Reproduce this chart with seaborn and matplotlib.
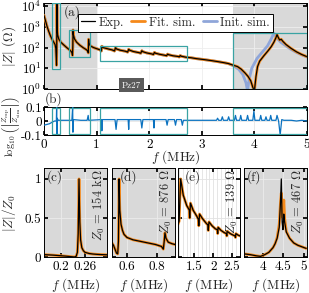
import matplotlib
matplotlib.use("Agg")
import matplotlib.pyplot as plt
import seaborn as sns
from matplotlib.patches import Rectangle

# ---- data ----
# panel (a): |Z| in Ohm vs f in MHz
exp_f = [0.00, 0.03, 0.06, 0.09, 0.12, 0.15, 0.18, 0.21, 0.225, 0.233, 0.238, 0.242, 0.245,
         0.248, 0.252, 0.26, 0.28, 0.32, 0.38, 0.44, 0.50, 0.53, 0.542, 0.548, 0.552, 0.558,
         0.58, 0.62, 0.68, 0.74, 0.80, 0.835, 0.842, 0.848, 0.855, 0.88, 0.94, 1.00, 1.06,
         1.09, 1.10, 1.12, 1.20, 1.30, 1.34, 1.36, 1.38, 1.45, 1.55, 1.59, 1.61, 1.63, 1.70,
         1.80, 1.84, 1.86, 1.88, 1.95, 2.05, 2.08, 2.10, 2.12, 2.20, 2.30, 2.33, 2.35, 2.37,
         2.45, 2.55, 2.57, 2.59, 2.61, 2.70, 2.80, 2.90, 3.00, 3.10, 3.20, 3.30, 3.40, 3.50,
         3.60, 3.68, 3.75, 3.82, 3.88, 3.93, 3.97, 4.00, 4.03, 4.06, 4.10, 4.18, 4.26, 4.32,
         4.37, 4.41, 4.43, 4.45, 4.48, 4.51, 4.54, 4.60, 4.70, 4.80, 4.90, 5.00]
exp_z = [3500, 1900, 1000, 600, 380, 260, 190, 140, 90, 30, 14, 60, 20000,
         2000, 700, 400, 260, 180, 130, 95, 72, 58, 42, 120, 700, 420,
         260, 180, 130, 100, 80, 68, 55, 250, 160, 120, 100, 88, 78,
         68, 115, 100, 88, 76, 68, 98, 85, 74, 66, 60, 82, 74, 64,
         57, 53, 70, 63, 55, 49, 46, 58, 53, 47, 42, 40, 48, 45,
         40, 37, 35, 41, 38, 34, 32, 29, 27, 25, 23, 21, 19, 17,
         14, 12, 9, 6, 4, 2.5, 1.2, 0.8, 4, 12, 22, 40, 70, 110,
         180, 300, 420, 320, 230, 250, 200, 140, 90, 62, 46, 36]
init_tail_f = [3.60, 3.70, 3.78, 3.84, 3.87, 3.90, 3.95, 4.05, 4.15, 4.25, 4.32, 4.37,
               4.42, 4.50, 4.60, 4.70, 4.80, 4.90, 5.00]
init_tail_z = [13, 9, 5, 2, 0.8, 3, 10, 30, 60, 120, 260, 500,
               300, 180, 120, 80, 58, 44, 35]

# panel (b): log10(|Zexp/Zsim|)
res_f = [0.00, 0.05, 0.10, 0.15, 0.20, 0.235, 0.24, 0.245, 0.25, 0.27, 0.40, 0.53, 0.545,
         0.55, 0.56, 0.70, 0.82, 0.84, 0.85, 1.00, 1.09, 1.10, 1.11, 1.35, 1.37, 1.39, 1.60,
         1.61, 1.62, 1.84, 1.86, 1.88, 2.08, 2.09, 2.10, 2.32, 2.34, 2.36, 2.48, 2.50, 2.52,
         2.61, 2.63, 2.65, 2.80, 3.00, 3.28, 3.30, 3.32, 3.37, 3.39, 3.41, 3.49, 3.51, 3.53,
         3.62, 3.64, 3.66, 3.72, 3.74, 3.76, 3.85, 3.87, 3.89, 3.97, 3.99, 4.01, 4.10, 4.12,
         4.14, 4.20, 4.22, 4.24, 4.29, 4.31, 4.33, 4.41, 4.43, 4.46, 4.49, 4.52, 4.56, 4.60,
         4.70, 4.80, 4.90, 5.00]
res_v = [-0.03, -0.025, -0.02, -0.01, 0.0, 0.0, 0.1, -0.1, 0.02, 0.005, 0.005, 0.005, 0.1,
         -0.08, 0.01, 0.005, 0.005, 0.04, 0.005, 0.008, 0.01, -0.07, 0.01, 0.01, -0.06, 0.01,
         0.01, -0.06, 0.01, 0.01, -0.05, 0.01, 0.01, -0.05, 0.01, 0.01, -0.03, 0.01, 0.01,
         -0.03, 0.01, 0.01, -0.03, 0.005, 0.005, 0.005, 0.005, 0.02, 0.005, 0.005, 0.03,
         0.005, 0.005, 0.03, 0.005, 0.005, 0.04, 0.005, 0.005, 0.04, 0.005, 0.005, 0.04,
         0.005, 0.005, 0.07, 0.005, 0.005, 0.04, 0.005, 0.005, 0.03, 0.005, 0.005, 0.04,
         0.005, 0.005, 0.04, 0.0, -0.1, 0.01, 0.005, 0.005, 0.005, 0.0, 0.005, 0.0]

# zoomed panels, |Z|/Z0
c_f = [0.158, 0.17, 0.18, 0.19, 0.20, 0.21, 0.22, 0.228, 0.234, 0.238, 0.241, 0.243, 0.245,
       0.247, 0.249, 0.252, 0.256, 0.26, 0.27, 0.28, 0.29, 0.30, 0.315]
c_exp = [0.03, 0.027, 0.024, 0.02, 0.016, 0.012, 0.007, 0.003, 0.0, 0.01, 0.06, 0.3, 1.0,
         0.45, 0.22, 0.12, 0.08, 0.06, 0.045, 0.038, 0.034, 0.031, 0.028]
d_f = [0.50, 0.51, 0.52, 0.53, 0.538, 0.543, 0.547, 0.552, 0.56, 0.57, 0.58, 0.60, 0.64,
       0.69, 0.74, 0.79, 0.83, 0.842, 0.848, 0.853, 0.86, 0.875, 0.90, 0.92]
d_exp = [0.18, 0.15, 0.10, 0.05, 0.04, 0.2, 1.0, 0.6, 0.42, 0.34, 0.29, 0.25, 0.22,
         0.20, 0.18, 0.16, 0.135, 0.10, 0.2, 0.31, 0.24, 0.19, 0.17, 0.16]
e_f = [1.07, 1.10, 1.12, 1.14, 1.21, 1.30, 1.37, 1.38, 1.40, 1.47, 1.57, 1.61, 1.62, 1.64,
       1.72, 1.82, 1.86, 1.87, 1.89, 1.97, 2.06, 2.11, 2.12, 2.13, 2.21, 2.30, 2.35, 2.36,
       2.37, 2.45, 2.53, 2.58, 2.59, 2.60, 2.66, 2.71]
e_exp = [0.42, 0.46, 0.75, 1.0, 0.79, 0.66, 0.6, 0.5, 0.69, 0.6, 0.52, 0.48, 0.40, 0.55,
         0.49, 0.43, 0.41, 0.34, 0.45, 0.40, 0.36, 0.35, 0.30, 0.38, 0.34, 0.31, 0.30, 0.27,
         0.33, 0.30, 0.28, 0.27, 0.25, 0.30, 0.28, 0.27]
f_f = [3.55, 3.70, 3.85, 3.95, 4.05, 4.15, 4.25, 4.30, 4.35, 4.40, 4.43, 4.45, 4.47, 4.49,
       4.51, 4.53, 4.57, 4.65, 4.75, 4.85, 4.95, 5.05]
f_exp = [0.04, 0.03, 0.015, 0.008, 0.03, 0.06, 0.12, 0.17, 0.24, 0.38, 0.7, 1.0, 0.45, 0.35,
         0.55, 0.45, 0.32, 0.24, 0.18, 0.15, 0.13, 0.11]
f_fit = [0.04, 0.03, 0.015, 0.008, 0.03, 0.06, 0.12, 0.17, 0.25, 0.42, 0.7, 0.82, 0.55, 0.5,
         0.73, 0.5, 0.33, 0.24, 0.18, 0.15, 0.13, 0.11]

zoom_labels = ["(c)", "(d)", "(e)", "(f)"]
zoom_label_x = [0.05, 0.13, 0.11, 0.05]
zoom_z0 = [r"$Z_0$ = 154 k$\Omega$", r"$Z_0$ = 876 $\Omega$", r"$Z_0$ = 139 $\Omega$", r"$Z_0$ = 467 $\Omega$"]
zoom_xlim = [(0.1575, 0.315), (0.5, 0.92), (1.07, 2.71), (3.55, 5.07)]
zoom_xticks = [[0.2, 0.26], [0.6, 0.8], [1.5, 2, 2.5], [4, 4.5, 5]]
zoom_xticklabels = [["0.2", "0.26"], ["0.6", "0.8"], ["1.5", "2", "2.5"], ["4", "4.5", "5"]]
boxes = [(0.15, 0.30), (0.48, 0.88), (1.07, 2.71), (3.6, 5.0)]
rects_a = [(0.15, 0.30, 9, 1.35e4), (0.48, 0.88, 34, 730), (1.07, 2.71, 23, 125), (3.6, 5.0, 1.0, 500)]

# ---- style ----
sns.set_theme(style="ticks")
plt.rcParams.update({
    "font.family": "serif",
    "font.serif": ["cmr10"],
    "mathtext.fontset": "cm",
    "axes.formatter.use_mathtext": True,
    "font.size": 9.5,
    "axes.labelsize": 9.5,
    "xtick.labelsize": 9.5,
    "ytick.labelsize": 9.5,
    "xtick.direction": "in",
    "ytick.direction": "in",
    "xtick.top": True,
    "ytick.right": True,
    "xtick.major.size": 3,
    "ytick.major.size": 3,
    "xtick.minor.size": 1.5,
    "ytick.minor.size": 1.5,
    "xtick.major.pad": 3,
    "ytick.major.pad": 2,
    "axes.edgecolor": "black",
    "axes.linewidth": 0.7,
    "xtick.color": "black",
    "ytick.color": "black",
})

GRAY = "#d9d9d9"
TEAL = "#3aa3a3"
ORANGE = "#f5891a"
INIT = "#8fa6d9"
RES = "#0a72c0"

W, H = 309, 293
fig = plt.figure(figsize=(W / 100, H / 100), dpi=100)


def px(x0, y0, x1, y1):
    return [x0 / W, 1 - y1 / H, (x1 - x0) / W, (y1 - y0) / H]


def line(ax, x, y, color, lw, z, label=None):
    sns.lineplot(x=x, y=y, ax=ax, color=color, lw=lw, estimator=None, sort=False,
                 zorder=z, label=label, legend=False)


# ---- (a) ----
ax = fig.add_axes(px(44, 3, 307, 89))
ax.set_yscale("log")
ax.axvspan(0, 1, color=GRAY, zorder=0, lw=0)
ax.axvspan(3.6, 5, color=GRAY, zorder=0, lw=0)
ax.grid(True, which="major", color="#eeeeee", lw=0.6, zorder=0.5)
k = exp_f.index(3.5) + 1
init_f = exp_f[:k] + init_tail_f
init_z = exp_z[:k] + init_tail_z
line(ax, init_f, init_z, INIT, 2.0, 2, "Init. sim.")
line(ax, exp_f, exp_z, ORANGE, 2.0, 3, "Fit. sim.")
line(ax, exp_f, exp_z, "black", 0.9, 4, "Exp.")
for x0, x1, y0, y1 in rects_a:
    ax.add_patch(Rectangle((x0, y0), x1 - x0, y1 - y0, fill=False, ec=TEAL, lw=0.9, zorder=5))
ax.set_xlim(0, 5)
ax.set_ylim(1, 1.4e4)
ax.set_yticks([1, 10, 100, 1000, 10000])
ax.set_xticks([0, 1, 2, 3, 4, 5])
ax.set_xticklabels([])
ax.set_ylabel(r"$|Z|$ ($\Omega$)")
ax.yaxis.set_label_coords(-0.1, 0.5)
ax.text(0.075, 0.98, "(a)", transform=ax.transAxes, ha="left", va="top", fontsize=9.5)
ax.text(1.66, 1.5, "Pz27", ha="center", va="center", fontsize=6.5, color="white",
        bbox=dict(boxstyle="square,pad=0.3", fc="#5a5a5a", ec="none"), zorder=6)
h, l = ax.get_legend_handles_labels()
order = [l.index("Exp."), l.index("Fit. sim."), l.index("Init. sim.")]
leg = ax.legend([h[i] for i in order], [l[i] for i in order], loc="upper center",
                bbox_to_anchor=(0.5, 0.95), ncol=3, frameon=True, fancybox=False,
                edgecolor="black", framealpha=1, fontsize=9, handlelength=1.1,
                handletextpad=0.3, columnspacing=0.6, borderpad=0.25)
leg.get_frame().set_linewidth(0.7)
leg.set_zorder(10)

# ---- (b) ----
axb = fig.add_axes(px(44, 107, 307, 135))
axb.grid(True, color="#e6e6e6", lw=0.6, zorder=0)
line(axb, res_f, res_v, RES, 0.9, 3)
for x0, x1 in boxes:
    axb.add_patch(Rectangle((x0, -0.09), x1 - x0, 0.185, fill=False, ec=TEAL, lw=0.9, zorder=5))
axb.set_xlim(0, 5)
axb.set_ylim(-0.1, 0.1)
axb.set_yticks([-0.1, 0, 0.1])
axb.set_yticklabels(["-0.1", "0", "0.1"])
axb.tick_params(axis="y", pad=1.5)
axb.set_xticks([0, 1, 2, 3, 4, 5])
axb.set_xticklabels(["0", "1", "2", "3", "4", "5"])
axb.set_ylabel(r"$\log_{10}\left(\left|\frac{Z_{\rm exp}}{Z_{\rm sim}}\right|\right)$",
               fontsize=7.5)
axb.yaxis.set_label_coords(-0.085, 0.3)
fig.text(45 / W, 1 - 99 / H, "(b)", ha="left", va="center", fontsize=9.5)
fig.text(176 / W, 1 - 157 / H, r"$f$ (MHz)", ha="center", va="center", fontsize=9.5)

# ---- (c)-(f) ----
zoom_x = [(44, 107), (112, 175), (178, 240), (244, 307)]
zoom_data = [(c_f, c_exp, c_exp), (d_f, d_exp, d_exp), (e_f, e_exp, e_exp), (f_f, f_exp, f_fit)]
for i, ((x0, x1), (zf, ze, zfit)) in enumerate(zip(zoom_x, zoom_data)):
    axz = fig.add_axes(px(x0, 168, x1, 257))
    if i == 2:
        axz.set_facecolor("white")
        axz.grid(True, which="both", axis="x", color="#e2e2e2", lw=0.6)
        axz.grid(True, which="major", axis="y", color="#e2e2e2", lw=0.6)
        axz.set_xticks([1.1 + 0.1 * j for j in range(17)], minor=True)
        axz.tick_params(which="minor", length=0)
    else:
        axz.set_facecolor(GRAY)
        axz.grid(True, color="#ececec", lw=0.6)
    line(axz, zf, zfit, ORANGE, 2.0, 2)
    line(axz, zf, ze, "black", 0.9, 3)
    axz.set_xlim(*zoom_xlim[i])
    axz.set_ylim(0, 1.14)
    axz.set_xticks(zoom_xticks[i])
    axz.set_xticklabels(zoom_xticklabels[i])
    axz.set_yticks([0, 0.5, 1])
    if i == 0:
        axz.set_yticklabels(["0", "0.5", "1"])
        axz.set_ylabel(r"$|Z|/Z_0$")
        axz.yaxis.set_label_coords(-0.42, 0.5)
    else:
        axz.set_yticklabels([])
    axz.set_xlabel(r"$f$ (MHz)", labelpad=2)
    axz.text(zoom_label_x[i], 0.98, zoom_labels[i], transform=axz.transAxes, ha="left",
             va="top", fontsize=9.5, zorder=6)
    axz.text(0.87, 0.99, zoom_z0[i], transform=axz.transAxes, ha="center", va="top",
             rotation=90, fontsize=9)

fig.savefig("out.png", dpi=100)
